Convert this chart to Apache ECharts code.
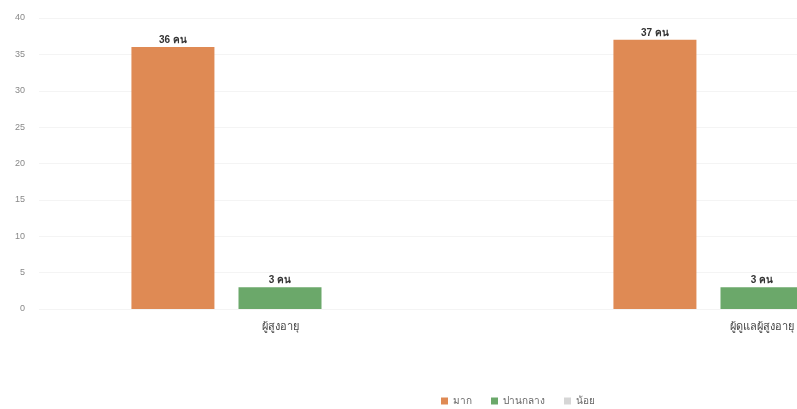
<!DOCTYPE html>
<html>
<head>
<meta charset="utf-8">
<script src="https://cdn.jsdelivr.net/npm/echarts@6/dist/echarts.min.js"></script>
<style>
    html, body { margin: 0; padding: 0; background: #fff; overflow: hidden; width: 797px; height: 409px; }
    /* กราฟต้นฉบับถูกตัดขอบขวา จึงวาดกว้างกว่าหน้าต่าง */
    #main { width: 1040px; height: 409px; }
</style>
</head>
<body>
<div id="main"></div>
<script>
// ข้อมูล
var categories = ['ผู้สูงอายุ', 'ผู้ดูแลผู้สูงอายุ'];
var seriesNames = ['มาก', 'ปานกลาง', 'น้อย'];
var valMak = [36, 37];
var valPanklang = [3, 3];
var valNoi = [0, 0];
var colors = ['#df8a54', '#6ba86a', '#d6d6d6'];

(function () {
    let myEchart = echarts.init(document.getElementById('main'));
    function lbl(p) {
        return p.value ? p.value + ' คน' : '';
    }
    let option = {
        animation: false,
        color: colors,
        textStyle: { fontFamily: 'sans-serif' },
        legend: {
            data: seriesNames,
            left: 436,
            top: 391,
            itemWidth: 7,
            itemHeight: 7,
            itemGap: 19,
            icon: 'rect',
            textStyle: { color: '#666', fontSize: 10 }
        },
        grid: {
            left: 39,
            right: 37,
            top: 18,
            bottom: 100
        },
        xAxis: {
            type: 'category',
            data: categories,
            axisTick: { show: false },
            axisLine: { show: false },
            axisLabel: { color: '#444', fontSize: 11, margin: 12 }
        },
        yAxis: {
            type: 'value',
            min: 0,
            max: 40,
            interval: 5,
            axisLabel: { color: '#888', fontSize: 9, margin: 14 },
            splitLine: { lineStyle: { color: '#f4f4f4' } }
        },
        series: [
            {
                name: seriesNames[0], type: 'bar', data: valMak,
                barWidth: 83, barGap: '29%',
                label: { show: true, position: 'top', formatter: lbl, color: '#333', fontSize: 10, fontWeight: 'bold', distance: 2 }
            },
            {
                name: seriesNames[1], type: 'bar', data: valPanklang,
                barWidth: 83, barGap: '29%',
                label: { show: true, position: 'top', formatter: lbl, color: '#333', fontSize: 10, fontWeight: 'bold', distance: 2 }
            },
            {
                name: seriesNames[2], type: 'bar', data: valNoi,
                barWidth: 83, barGap: '29%',
                label: { show: true, position: 'top', formatter: lbl, color: '#333', fontSize: 10 }
            }
        ]
    };
    myEchart.setOption(option);
})();
</script>
</body>
</html>
